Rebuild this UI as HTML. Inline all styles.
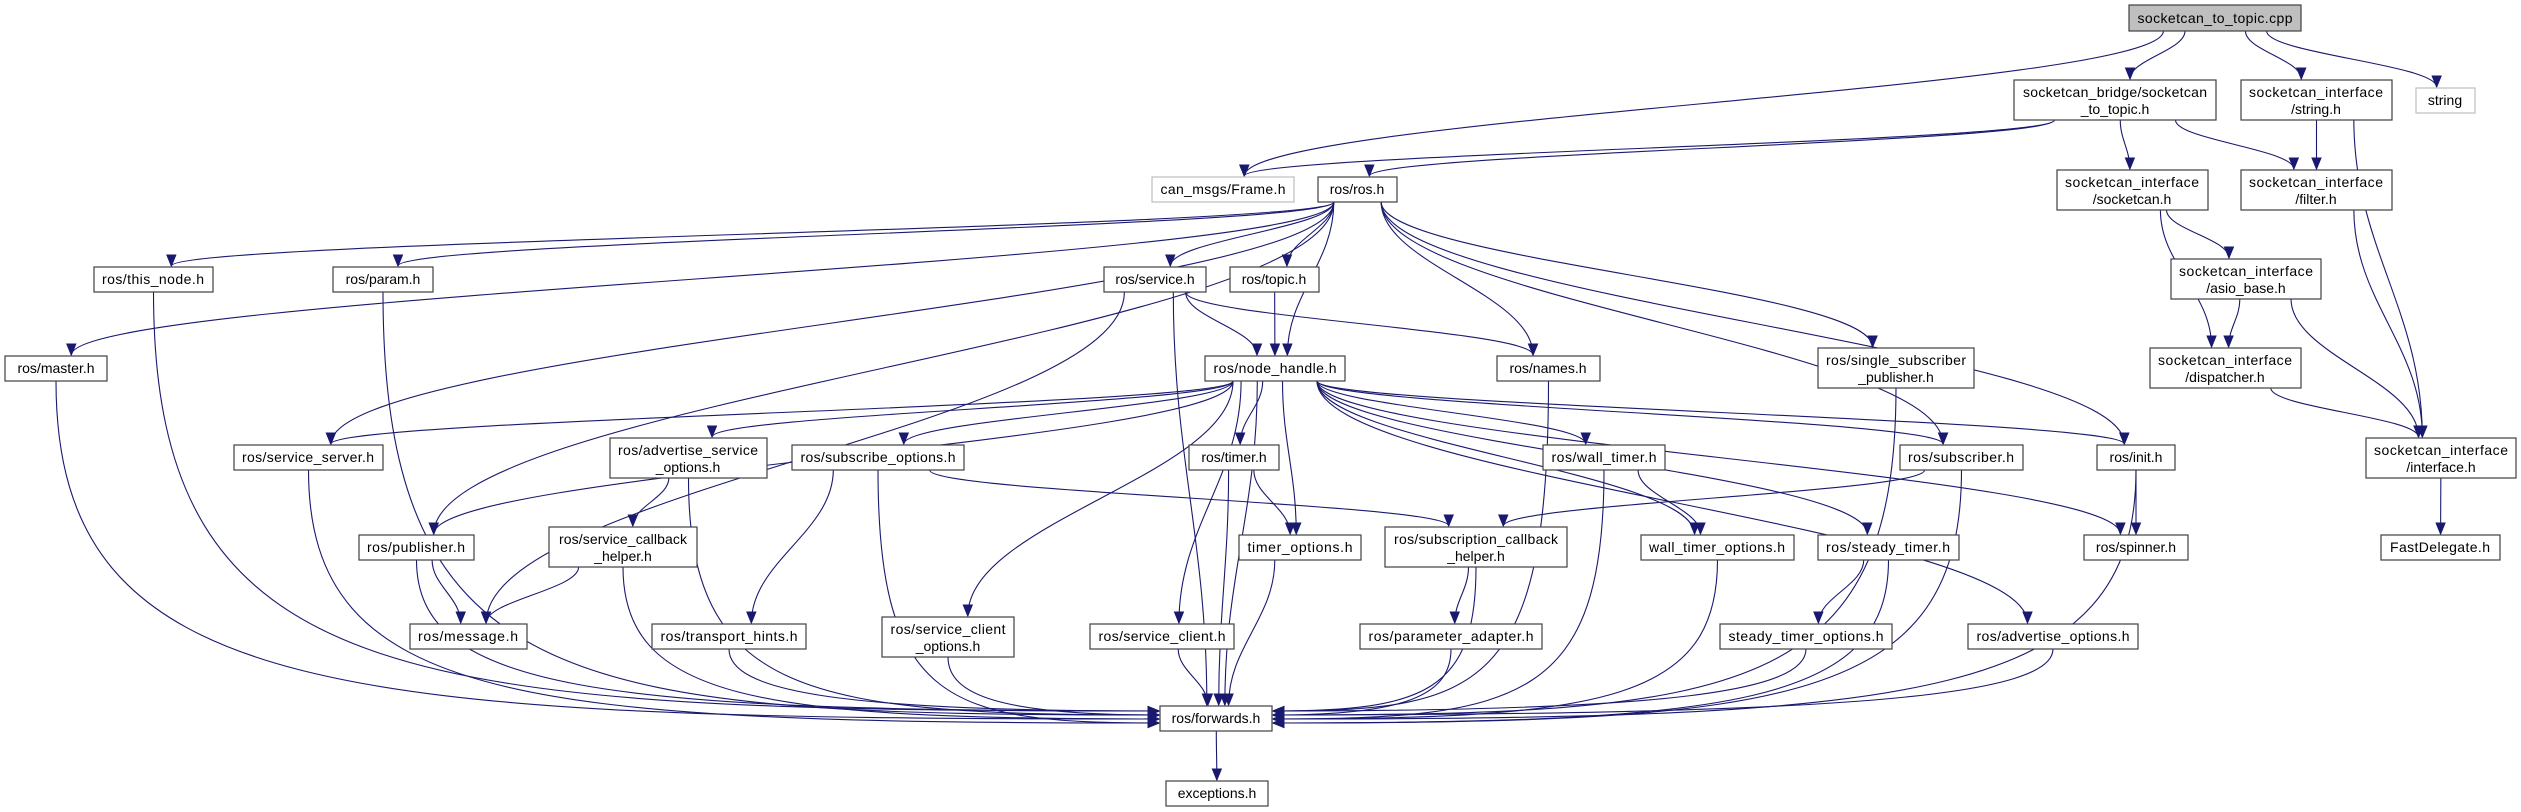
<!DOCTYPE html>
<html><head><meta charset="utf-8"><style>
html,body{margin:0;padding:0;background:#fff;}
svg{display:block;}
text{font-family:"Liberation Sans",sans-serif;font-size:14px;fill:#000;}
</style></head><body>
<svg id="g" width="2521" height="812" viewBox="0 0 2521 812" xmlns="http://www.w3.org/2000/svg">
<g id="edges" fill="none" stroke="#191970" stroke-width="1.1"></g>
<g id="heads" fill="#191970" stroke="#191970"></g>
<g id="nodes" stroke-width="1.2">
<rect x="2129" y="5" width="172" height="26" fill="#bfbfbf" stroke="#404040"/><text x="2215" y="23" text-anchor="middle" textLength="155">socketcan_to_topic.cpp</text>
<rect x="2014" y="80" width="202" height="40" fill="#fff" stroke="#404040"/><text x="2115" y="97" text-anchor="middle" textLength="184">socketcan_bridge/socketcan</text><text x="2115" y="114" text-anchor="middle">_to_topic.h</text>
<rect x="2241" y="80" width="151" height="40" fill="#fff" stroke="#404040"/><text x="2316" y="97" text-anchor="middle" textLength="134">socketcan_interface</text><text x="2316" y="114" text-anchor="middle">/string.h</text>
<rect x="2416" y="88" width="59" height="25" fill="#fff" stroke="#bfbfbf"/><text x="2445" y="105" text-anchor="middle">string</text>
<rect x="1152" y="177" width="142" height="25" fill="#fff" stroke="#bfbfbf"/><text x="1223" y="194" text-anchor="middle" textLength="125">can_msgs/Frame.h</text>
<rect x="1318" y="177" width="79" height="25" fill="#fff" stroke="#404040"/><text x="1357" y="194" text-anchor="middle">ros/ros.h</text>
<rect x="2057" y="170" width="151" height="40" fill="#fff" stroke="#404040"/><text x="2132" y="187" text-anchor="middle" textLength="134">socketcan_interface</text><text x="2132" y="204" text-anchor="middle">/socketcan.h</text>
<rect x="2241" y="170" width="151" height="40" fill="#fff" stroke="#404040"/><text x="2316" y="187" text-anchor="middle" textLength="134">socketcan_interface</text><text x="2316" y="204" text-anchor="middle">/filter.h</text>
<rect x="94" y="267" width="119" height="25" fill="#fff" stroke="#404040"/><text x="153" y="284" text-anchor="middle" textLength="102">ros/this_node.h</text>
<rect x="333" y="267" width="100" height="25" fill="#fff" stroke="#404040"/><text x="383" y="284" text-anchor="middle">ros/param.h</text>
<rect x="1104" y="267" width="102" height="25" fill="#fff" stroke="#404040"/><text x="1155" y="284" text-anchor="middle">ros/service.h</text>
<rect x="1230" y="267" width="89" height="25" fill="#fff" stroke="#404040"/><text x="1274" y="284" text-anchor="middle">ros/topic.h</text>
<rect x="5" y="356" width="102" height="25" fill="#fff" stroke="#404040"/><text x="56" y="373" text-anchor="middle">ros/master.h</text>
<rect x="1205" y="356" width="140" height="25" fill="#fff" stroke="#404040"/><text x="1275" y="373" text-anchor="middle" textLength="123">ros/node_handle.h</text>
<rect x="1497" y="356" width="103" height="25" fill="#fff" stroke="#404040"/><text x="1548" y="373" text-anchor="middle">ros/names.h</text>
<rect x="2171" y="259" width="150" height="40" fill="#fff" stroke="#404040"/><text x="2246" y="276" text-anchor="middle" textLength="134">socketcan_interface</text><text x="2246" y="293" text-anchor="middle">/asio_base.h</text>
<rect x="1818" y="348" width="156" height="40" fill="#fff" stroke="#404040"/><text x="1896" y="365" text-anchor="middle" textLength="140">ros/single_subscriber</text><text x="1896" y="382" text-anchor="middle">_publisher.h</text>
<rect x="2150" y="348" width="151" height="40" fill="#fff" stroke="#404040"/><text x="2225" y="365" text-anchor="middle" textLength="134">socketcan_interface</text><text x="2225" y="382" text-anchor="middle">/dispatcher.h</text>
<rect x="234" y="445" width="149" height="25" fill="#fff" stroke="#404040"/><text x="308" y="462" text-anchor="middle" textLength="132">ros/service_server.h</text>
<rect x="610" y="438" width="157" height="40" fill="#fff" stroke="#404040"/><text x="688" y="455" text-anchor="middle" textLength="140">ros/advertise_service</text><text x="688" y="472" text-anchor="middle">_options.h</text>
<rect x="792" y="445" width="172" height="25" fill="#fff" stroke="#404040"/><text x="878" y="462" text-anchor="middle" textLength="155">ros/subscribe_options.h</text>
<rect x="1189" y="445" width="90" height="25" fill="#fff" stroke="#404040"/><text x="1234" y="462" text-anchor="middle">ros/timer.h</text>
<rect x="1543" y="445" width="122" height="25" fill="#fff" stroke="#404040"/><text x="1604" y="462" text-anchor="middle" textLength="105">ros/wall_timer.h</text>
<rect x="1900" y="445" width="123" height="25" fill="#fff" stroke="#404040"/><text x="1961" y="462" text-anchor="middle" textLength="106">ros/subscriber.h</text>
<rect x="2097" y="445" width="78" height="25" fill="#fff" stroke="#404040"/><text x="2136" y="462" text-anchor="middle">ros/init.h</text>
<rect x="2366" y="438" width="150" height="40" fill="#fff" stroke="#404040"/><text x="2441" y="455" text-anchor="middle" textLength="134">socketcan_interface</text><text x="2441" y="472" text-anchor="middle">/interface.h</text>
<rect x="359" y="535" width="115" height="25" fill="#fff" stroke="#404040"/><text x="416" y="552" text-anchor="middle" textLength="98">ros/publisher.h</text>
<rect x="549" y="527" width="148" height="40" fill="#fff" stroke="#404040"/><text x="623" y="544" text-anchor="middle" textLength="128">ros/service_callback</text><text x="623" y="561" text-anchor="middle">_helper.h</text>
<rect x="1239" y="535" width="122" height="25" fill="#fff" stroke="#404040"/><text x="1300" y="552" text-anchor="middle" textLength="105">timer_options.h</text>
<rect x="1385" y="527" width="182" height="40" fill="#fff" stroke="#404040"/><text x="1476" y="544" text-anchor="middle" textLength="164">ros/subscription_callback</text><text x="1476" y="561" text-anchor="middle">_helper.h</text>
<rect x="1641" y="535" width="153" height="25" fill="#fff" stroke="#404040"/><text x="1717" y="552" text-anchor="middle" textLength="136">wall_timer_options.h</text>
<rect x="1818" y="535" width="141" height="25" fill="#fff" stroke="#404040"/><text x="1888" y="552" text-anchor="middle" textLength="124">ros/steady_timer.h</text>
<rect x="2084" y="535" width="104" height="25" fill="#fff" stroke="#404040"/><text x="2136" y="552" text-anchor="middle">ros/spinner.h</text>
<rect x="2381" y="535" width="119" height="25" fill="#fff" stroke="#404040"/><text x="2440" y="552" text-anchor="middle" textLength="100">FastDelegate.h</text>
<rect x="410" y="624" width="117" height="25" fill="#fff" stroke="#404040"/><text x="468" y="641" text-anchor="middle" textLength="100">ros/message.h</text>
<rect x="652" y="624" width="154" height="25" fill="#fff" stroke="#404040"/><text x="729" y="641" text-anchor="middle" textLength="137">ros/transport_hints.h</text>
<rect x="882" y="617" width="132" height="40" fill="#fff" stroke="#404040"/><text x="948" y="634" text-anchor="middle" textLength="115">ros/service_client</text><text x="948" y="651" text-anchor="middle">_options.h</text>
<rect x="1090" y="624" width="144" height="25" fill="#fff" stroke="#404040"/><text x="1162" y="641" text-anchor="middle" textLength="127">ros/service_client.h</text>
<rect x="1360" y="624" width="182" height="25" fill="#fff" stroke="#404040"/><text x="1451" y="641" text-anchor="middle" textLength="165">ros/parameter_adapter.h</text>
<rect x="1720" y="624" width="172" height="25" fill="#fff" stroke="#404040"/><text x="1806" y="641" text-anchor="middle" textLength="155">steady_timer_options.h</text>
<rect x="1968" y="624" width="170" height="25" fill="#fff" stroke="#404040"/><text x="2053" y="641" text-anchor="middle" textLength="153">ros/advertise_options.h</text>
<rect x="1160" y="706" width="112" height="25" fill="#fff" stroke="#404040"/><text x="1216" y="723" text-anchor="middle">ros/forwards.h</text>
<rect x="1166" y="781" width="102" height="25" fill="#fff" stroke="#404040"/><text x="1217" y="798" text-anchor="middle">exceptions.h</text>
</g>
</svg>
<script>
var N={
cpp:[2129,5,2301,31],bridge:[2014,80,2216,120],strh:[2241,80,2392,120],str:[2416,88,2475,113],
frame:[1152,177,1294,202],ros:[1318,177,1397,202],sock:[2057,170,2208,210],filter:[2241,170,2392,210],
thisnode:[94,267,213,292],param:[333,267,433,292],service:[1104,267,1206,292],topic:[1230,267,1319,292],
master:[5,356,107,381],nh:[1205,356,1345,381],names:[1497,356,1600,381],asio:[2171,259,2321,299],
single:[1818,348,1974,388],disp:[2150,348,2301,388],ssrv:[234,445,383,470],aso:[610,438,767,478],
subo:[792,445,964,470],timer:[1189,445,1279,470],wtimer:[1543,445,1665,470],subscriber:[1900,445,2023,470],
init:[2097,445,2175,470],iface:[2366,438,2516,478],pub:[359,535,474,560],scb:[549,527,697,567],
topts:[1239,535,1361,560],subcb:[1385,527,1567,567],wto:[1641,535,1794,560],stimer:[1818,535,1959,560],
spinner:[2084,535,2188,560],fd:[2381,535,2500,560],msg:[410,624,527,649],th:[652,624,806,649],
sco:[882,617,1014,657],sc:[1090,624,1234,649],pa:[1360,624,1542,649],sto:[1720,624,1892,649],
ao:[1968,624,2138,649],fwd:[1160,706,1272,731],exc:[1166,781,1268,806]};
var E=[
['cpp','frame'],['cpp','bridge'],['cpp','strh'],['cpp','str'],
['bridge','frame'],['bridge','ros'],['bridge','sock'],['bridge','filter'],
['strh','filter'],['strh','iface'],['sock','asio'],['sock','disp'],['filter','iface'],
['asio','disp'],['asio','iface'],['disp','iface'],['iface','fd'],
['ros','master'],['ros','thisnode'],['ros','param'],['ros','ssrv'],['ros','pub'],['ros','service'],
['ros','topic'],['ros','nh'],['ros','names'],['ros','init'],['ros','subscriber'],['ros','single'],
['thisnode','fwd'],['param','fwd'],['master','fwd'],['service','nh'],['service','names'],['service','fwd'],['service','msg'],
['topic','nh'],['names','fwd'],['single','fwd'],
['nh','ssrv'],['nh','pub'],['nh','aso'],['nh','subo'],['nh','timer'],['nh','topts'],['nh','wtimer'],['nh','wto'],
['nh','stimer'],['nh','subscriber'],['nh','init'],['nh','spinner'],['nh','ao'],['nh','sco'],['nh','sc'],['nh','fwd'],
['ssrv','fwd'],['pub','msg'],['pub','fwd'],['aso','scb'],['aso','fwd'],['scb','msg'],['scb','fwd'],
['subo','th'],['subo','fwd'],['subo','subcb'],['th','fwd'],['timer','topts'],['timer','fwd'],['topts','fwd'],
['wtimer','wto'],['wtimer','fwd'],['subscriber','subcb'],['subscriber','fwd'],['subcb','pa'],['subcb','fwd'],
['pa','fwd'],['sco','fwd'],['sc','fwd'],['wto','fwd'],['stimer','sto'],['stimer','fwd'],['sto','fwd'],
['ao','fwd'],['init','spinner'],['init','fwd'],['fwd','exc']];
var eg=document.getElementById('edges'),hg=document.getElementById('heads'),ns='http://www.w3.org/2000/svg';
var li=0,ri=0;
E.forEach(function(e){
 var s=N[e[0]],t=N[e[1]];
 var scx=(s[0]+s[2])/2,tcx=(t[0]+t[2])/2;
 var sx,sy,tx,ty,c1x,c1y,c2x,c2y,dir;
 if(e[1]=='fwd'&&scx<1100){
  sx=scx;sy=s[3];tx=t[0]-1;ty=711+(li%4)*4;li++;
  c1x=sx;c1y=ty-20;c2x=sx+(tx-sx)*0.25;c2y=ty;dir=[1,0];
 }else if(e[1]=='fwd'&&scx>1380){
  sx=scx;sy=s[3];tx=t[2]+1;ty=711+(ri%4)*4;ri++;
  c1x=sx;c1y=ty-20;c2x=sx+(tx-sx)*0.25;c2y=ty;dir=[-1,0];
 }else if(t[1]>=s[3]-5){
  sx=scx+(tcx-scx)*0.3*Math.min(1,(s[2]-s[0])/Math.max(1,Math.abs(tcx-scx)));
  sx=Math.max(s[0]+4,Math.min(s[2]-4,sx));
  sy=s[3];tx=tcx+(scx-tcx)*0.15*Math.min(1,(t[2]-t[0])/Math.max(1,Math.abs(tcx-scx)));
  tx=Math.max(t[0]+6,Math.min(t[2]-6,tx));ty=t[1]-1;
  var dy=ty-sy;c1x=sx;c1y=sy+dy*0.4;c2x=tx;c2y=ty-dy*0.4;
  var dx=c2x-tx,dd=c2y-ty,l=Math.hypot(dx,dd)||1;dir=[-dx/l,-dd/l];
 }else{
  sx=s[0];sy=s[3]-3;tx=t[2];ty=t[1]+8;c1x=sx-40;c1y=sy;c2x=tx+40;c2y=ty;dir=[-1,0];
 }
 var p=document.createElementNS(ns,'path');
 p.setAttribute('d','M'+sx+','+sy+' C'+c1x+','+c1y+' '+c2x+','+c2y+' '+tx+','+ty);
 eg.appendChild(p);
 var L=11,W=4.5,bx=tx-dir[0]*L,by=ty-dir[1]*L,px=-dir[1],py=dir[0];
 var h=document.createElementNS(ns,'polygon');
 h.setAttribute('points',tx+','+ty+' '+(bx+px*W)+','+(by+py*W)+' '+(bx-px*W)+','+(by-py*W));
 hg.appendChild(h);
});
</script>
</body></html>
